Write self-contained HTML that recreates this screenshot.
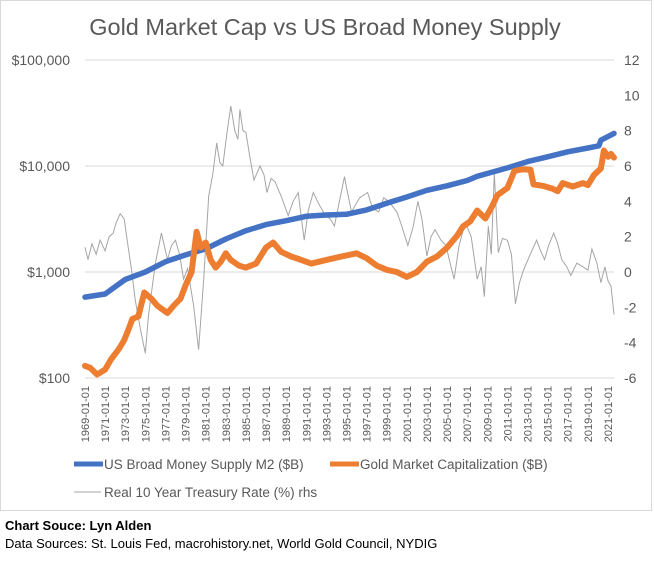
<!DOCTYPE html>
<html><head><meta charset="utf-8"><style>
body{margin:0;background:#fff;width:654px;height:557px;overflow:hidden;font-family:"Liberation Sans",sans-serif}
svg text{font-family:"Liberation Sans",sans-serif}
</style></head><body>
<svg id="c" width="654" height="557" xmlns="http://www.w3.org/2000/svg">
<rect x="0.5" y="0.5" width="651" height="510" fill="#fff" stroke="#d9d9d9"/>
<text x="325" y="35" font-size="23.5" fill="#595959" text-anchor="middle">Gold Market Cap vs US Broad Money Supply</text>
<g id="grid"></g><g id="series"></g><g id="axes"></g>
<g>
<line x1="74" y1="464" x2="103" y2="464" stroke="#4472c4" stroke-width="5"/>
<text x="104" y="469" font-size="13.5" fill="#595959">US Broad Money Supply M2 ($B)</text>
<line x1="330" y1="464" x2="359" y2="464" stroke="#ed7d31" stroke-width="5"/>
<text x="360" y="469" font-size="13.5" fill="#595959">Gold Market Capitalization ($B)</text>
<line x1="74" y1="492" x2="101" y2="492" stroke="#a5a5a5" stroke-width="1"/>
<text x="104" y="497" font-size="13.5" fill="#595959">Real 10 Year Treasury Rate (%) rhs</text>
</g>
<text x="5" y="530" font-size="13" font-weight="bold" fill="#000">Chart Souce: Lyn Alden</text>
<text x="5" y="548" font-size="13" fill="#000">Data Sources: St. Louis Fed, macrohistory.net, World Gold Council, NYDIG</text>
</svg>
<script>
const m2Years=[1969,1971,1973,1975,1977,1979,1981,1983,1985,1987,1989,1991,1993,1995,1997,1999,2001,2003,2005,2007,2008,2009,2011,2013,2015,2017,2019,2020.1,2020.3,2021.6];
const m2Values=[580,620,850,1000,1250,1450,1650,2050,2450,2800,3050,3350,3450,3500,3850,4450,5100,5900,6500,7300,8000,8500,9600,11000,12200,13600,14800,15500,17500,20300];
const goldYears=[1969,1969.5,1970.2,1971,1971.6,1972.4,1972.9,1973.4,1973.7,1974.3,1974.9,1975.6,1976.2,1977.2,1977.8,1978.5,1979,1979.6,1980.1,1980.5,1981,1981.5,1982,1982.5,1983,1983.5,1984.3,1985,1986,1987,1987.7,1988.5,1989.5,1990.5,1991.5,1993,1994.5,1996,1997,1998,1999,2000,2001,2002,2003,2004,2005,2006,2006.6,2007.3,2008,2008.8,2009.5,2010,2011,2011.7,2012.5,2013.3,2013.6,2014.5,2015.5,2016,2016.5,2017.5,2018.5,2019,2019.6,2020.3,2020.6,2021,2021.3,2021.6];
const goldValues=[130,125,108,120,150,190,228,300,360,380,640,560,480,410,480,560,750,1000,2400,1700,1900,1300,1100,1250,1500,1300,1150,1100,1200,1700,1900,1550,1400,1300,1200,1300,1400,1500,1350,1150,1050,1000,900,1000,1250,1400,1700,2200,2700,3000,3800,3200,4200,5300,6200,9000,9300,9200,6700,6500,6100,5800,6900,6400,6900,6600,8200,9500,14000,12200,13000,12000];
const rateYears=[1969,1969.3,1969.7,1970.1,1970.5,1971,1971.4,1971.8,1972.1,1972.5,1972.9,1973.3,1973.6,1974,1974.5,1975,1975.3,1975.6,1976,1976.6,1977.2,1977.6,1978,1978.4,1978.8,1979.2,1979.8,1980.3,1980.8,1981.3,1981.7,1982.1,1982.4,1982.7,1983.1,1983.5,1983.9,1984.2,1984.4,1984.7,1985,1985.4,1985.8,1986.4,1986.8,1987.1,1987.5,1987.9,1988.5,1989.2,1989.7,1990.2,1990.8,1991.2,1991.7,1992.3,1992.9,1993.4,1993.8,1994.3,1994.8,1995.1,1995.5,1996.3,1997.1,1997.6,1998.2,1998.7,1999.2,2000,2000.5,2001.1,2001.6,2002.1,2002.5,2003,2003.4,2003.8,2004.4,2004.9,2005.3,2005.7,2006.2,2006.8,2007.4,2008,2008.4,2008.7,2009.1,2009.4,2009.7,2010.1,2010.5,2011,2011.4,2011.8,2012.2,2012.6,2013.2,2013.9,2014.3,2014.7,2015.1,2015.6,2016,2016.4,2016.9,2017.3,2017.9,2018.5,2019,2019.4,2019.9,2020.3,2020.7,2021,2021.3,2021.6];
const rateValues=[1.4,0.7,1.6,1.0,1.8,1.2,2.0,2.2,2.8,3.3,3.0,1.4,0.2,-1.6,-3.2,-4.6,-2.5,-1.2,0.5,2.2,0.7,1.5,1.8,1.0,-0.4,0.2,-1.9,-4.4,-0.4,4.3,5.5,7.3,6.2,6.0,7.8,9.4,8.0,7.5,9.2,8.0,7.9,6.5,5.2,6.0,5.5,4.5,5.3,5.1,4.3,3.2,4.0,4.5,1.8,3.5,4.5,3.8,3.2,3.0,2.6,4.0,5.4,4.5,3.4,4.2,4.5,3.6,3.4,4.2,4.0,3.4,2.6,1.5,2.5,4.0,3.0,0.9,2.0,2.4,1.8,1.5,0.5,-0.4,1.5,2.8,2.0,-0.4,0.3,-1.4,2.6,1.0,5.6,1.1,1.9,1.8,1.0,-1.8,-0.6,0.1,0.9,1.8,1.2,0.7,1.5,2.2,1.6,0.7,0.3,-0.2,0.5,0.3,0.1,1.3,0.5,-0.6,0.3,-0.5,-0.8,-2.4];
const leftTicks=[100,1000,10000,100000];
const leftTickLabels=["$100","$1,000","$10,000","$100,000"];
const rightTicks=[-6,-4,-2,0,2,4,6,8,10,12];
const xTickYears=[];for(let y=1969;y<=2021;y+=2)xTickYears.push(y);

const X0=85,X1=614,Y0=378,Y1=60;
const xs=t=>X0+(t-1969)*(X1-X0)/52.6;
const yl=v=>Y0-(Math.log10(v)-2)*(Y0-Y1)/3;
const yr=v=>Y0-(v+6)*(Y0-Y1)/18;
const NS="http://www.w3.org/2000/svg";
function mk(tag,attrs,parent,txt){const e=document.createElementNS(NS,tag);for(const k in attrs)e.setAttribute(k,attrs[k]);if(txt!=null)e.textContent=txt;document.getElementById(parent).appendChild(e);return e;}

leftTicks.forEach((v,i)=>{
  const g=mk('line',{x1:X0,x2:X1,y1:yl(v),y2:yl(v),stroke:'#d9d9d9','stroke-width':1},'grid');
  
  
  const t=mk('text',{x:70,y:yl(v)+5,'font-size':14,fill:'#595959','text-anchor':'end'},'axes',leftTickLabels[i]);
  
  
});
rightTicks.forEach(v=>{
  const t=mk('text',{x:624,y:yr(v)+5,'font-size':14,fill:'#595959'},'axes',String(v));
  
  
});
xTickYears.forEach(y=>{
  const x=xs(y)+4;
  const t=mk('text',{x:x,y:386,'font-size':11,fill:'#595959','text-anchor':'end',transform:`rotate(-90 ${x} 386)`},'axes',y+'-01-01');
  
  
});
function pts(xa,va,f){return xa.map((t,i)=>xs(t).toFixed(1)+','+f(va[i]).toFixed(1)).join(' ');}
const r=mk('polyline',{points:pts(rateYears,rateValues,yr),fill:'none',stroke:'#a5a5a5','stroke-width':1},'series');


const m=mk('polyline',{points:pts(m2Years,m2Values,yl),fill:'none',stroke:'#4472c4','stroke-width':5.5,'stroke-linejoin':'round','stroke-linecap':'round'},'series');


const g=mk('polyline',{points:pts(goldYears,goldValues,yl),fill:'none',stroke:'#ed7d31','stroke-width':6,'stroke-linejoin':'round','stroke-linecap':'round'},'series');


</script>
</body></html>
